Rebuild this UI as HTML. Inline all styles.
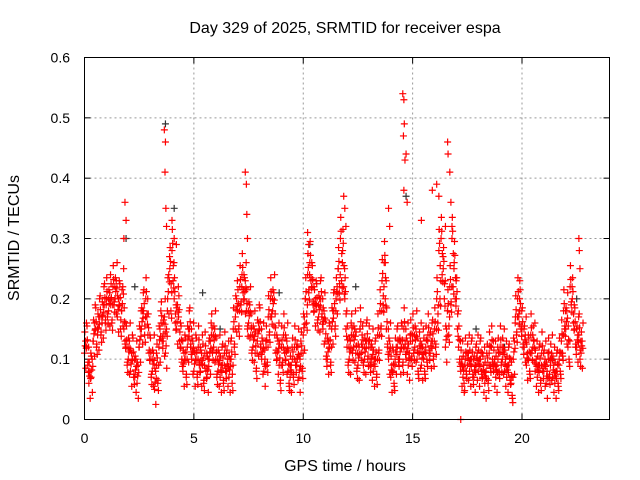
<!DOCTYPE html>
<html><head><meta charset="utf-8"><style>
body{margin:0;background:#fff}
svg{display:block;font-family:"Liberation Sans",sans-serif}
</style></head><body>
<svg id="chart" width="640" height="480">
<rect width="640" height="480" fill="#fff"/>
<text x="345" y="33" text-anchor="middle" font-size="16">Day 329 of 2025, SRMTID for receiver espa</text>
<text x="345" y="471" text-anchor="middle" font-size="16">GPS time / hours</text>
<text transform="translate(19,238) rotate(-90)" text-anchor="middle" font-size="16">SRMTID / TECUs</text>
<g id="grid"></g><g id="axes"></g><g id="marks"></g>
<rect x="84.5" y="57.5" width="525" height="362" fill="none" stroke="#000"/>
</svg>
<script>
const xTicks=[0,5,10,15,20];
const yTicks=[0,0.1,0.2,0.3,0.4,0.5,0.6];
const yTickLabels=["0","0.1","0.2","0.3","0.4","0.5","0.6"];
const redA=[0.11,0.12,0.06,0.07,0.13,0.15,0.14,0.17,0.16,0.19,
0.2,0.18,0.19,0.22,0.2,0.17,0.19,0.18,0.15,0.12,
0.1,0.08,0.1,0.07,0.06,0.12,0.15,0.18,0.2,0.14,
0.1,0.08,0.05,0.09,0.12,0.16,0.13,0.11,0.2,0.25,
0.28,0.2,0.15,0.17,0.12,0.08,0.1,0.12,0.15,0.1,
0.08,0.1,0.12,0.08,0.09,0.11,0.07,0.1,0.14,0.12,
0.1,0.08,0.07,0.09,0.11,0.08,0.07,0.1,0.15,0.17,
0.18,0.22,0.24,0.2,0.18,0.16,0.14,0.12,0.11,0.13,
0.15,0.1,0.08,0.12,0.17,0.2,0.18,0.14,0.1,0.09,
0.12,0.14,0.1,0.08,0.07,0.1,0.12,0.09,0.07,0.11,
0.14,0.2,0.24,0.26,0.22,0.18,0.19,0.17,0.2,0.15,
0.13,0.1,0.12,0.15,0.18,0.2,0.25,0.3,0.28,0.2,
0.12,0.1,0.14,0.12,0.11,0.09,0.15,0.12,0.1,0.13,
0.12,0.09,0.08,0.1,0.14,0.18,0.23,0.26,0.15,0.1,
0.07,0.08,0.1,0.12,0.1,0.12,0.15,0.1,0.09,0.13,
0.14,0.12,0.1,0.11,0.09,0.1,0.12,0.14,0.11,0.13,
0.15,0.2,0.28,0.3,0.25,0.12,0.18,0.22,0.3,0.26,
0.2,0.12,0.08,0.07,0.1,0.09,0.08,0.1,0.07,0.09,
0.08,0.1,0.07,0.06,0.09,0.11,0.12,0.08,0.07,0.1,
0.12,0.1,0.08,0.07,0.09,0.06,0.1,0.17,0.2,0.18,
0.15,0.12,0.09,0.1,0.14,0.12,0.08,0.07,0.09,0.11,
0.08,0.06,0.1,0.09,0.07,0.06,0.08,0.1,0.13,0.18,
0.15,0.12,0.22,0.2,0.15,0.12,0.14,0.11];
const redB=[0.13,0.09,0.08,0.1,0.16,0.12,0.17,0.14,0.19,0.16,
0.17,0.21,0.16,0.19,0.23,0.2,0.15,0.22,0.13,0.09,
0.13,0.11,0.07,0.1,0.09,0.15,0.18,0.14,0.17,0.11,
0.07,0.11,0.08,0.06,0.15,0.13,0.17,0.15,0.24,0.18,
0.23,0.16,0.19,0.13,0.1,0.11,0.07,0.15,0.12,0.13,
0.11,0.07,0.09,0.11,0.06,0.08,0.1,0.13,0.11,0.15,
0.07,0.11,0.09,0.06,0.08,0.1,0.1,0.06,0.12,0.2,
0.15,0.19,0.21,0.23,0.15,0.19,0.11,0.15,0.08,0.16,
0.12,0.13,0.1,0.09,0.14,0.17,0.21,0.11,0.13,0.06,
0.09,0.11,0.13,0.06,0.09,0.07,0.09,0.12,0.1,0.08,
0.17,0.16,0.21,0.23,0.19,0.2,0.16,0.2,0.17,0.18,
0.1,0.13,0.09,0.18,0.15,0.22,0.21,0.23,0.22,0.15,
0.09,0.13,0.11,0.15,0.08,0.12,0.11,0.09,0.13,0.1,
0.09,0.12,0.1,0.07,0.11,0.15,0.19,0.2,0.12,0.13,
0.09,0.06,0.12,0.1,0.13,0.09,0.12,0.13,0.11,0.1,
0.11,0.15,0.08,0.13,0.12,0.08,0.1,0.11,0.13,0.1,
0.12,0.16,0.2,0.24,0.2,0.15,0.14,0.19,0.22,0.2,
0.15,0.1,0.1,0.06,0.08,0.11,0.1,0.07,0.09,0.11,
0.1,0.08,0.09,0.08,0.06,0.09,0.1,0.1,0.09,0.08,
0.09,0.12,0.1,0.09,0.07,0.04,0.13,0.14,0.17,0.15,
0.12,0.14,0.11,0.08,0.11,0.13,0.1,0.09,0.06,0.08,
0.1,0.08,0.07,0.11,0.09,0.08,0.06,0.08,0.11,0.15,
0.18,0.1,0.19,0.16,0.12,0.14,0.1,0.13];
const spikeT=[1.85,1.9,1.8,3.65,3.7,3.68,3.72,3.75,4.0,4.1,4.2,7.35,7.4,7.42,7.45,10.2,10.25,11.85,11.9,11.95,13.9,13.95,14.55,14.6,14.62,14.58,14.65,14.6,14.7,14.75,15.9,16.1,16.2,16.5,16.6,16.62,16.7,16.75,16.8,19.9,22.6,22.62,22.65,15.4,13.75,17.2];
const spikeV=[0.36,0.33,0.3,0.48,0.46,0.41,0.35,0.32,0.33,0.3,0.29,0.41,0.39,0.34,0.3,0.31,0.29,0.37,0.35,0.32,0.35,0.32,0.54,0.53,0.49,0.47,0.43,0.38,0.44,0.36,0.38,0.39,0.37,0.32,0.46,0.44,0.41,0.36,0.32,0.23,0.3,0.28,0.25,0.33,0.26,0];
const blackT=[1.9,3.7,4.1,14.7,22.5,0.5,2.3,5.4,8.9,12.4,17.9,19.2,21.4,10.3,6.2];
const blackV=[0.3,0.49,0.35,0.37,0.2,0.15,0.22,0.21,0.21,0.22,0.15,0.12,0.1,0.29,0.15];
const X=t=>84.5+t*(525/24);
const Y=v=>419.5-v*(362/0.6);
const NS="http://www.w3.org/2000/svg";
const grid=document.getElementById('grid'),axes=document.getElementById('axes'),marks=document.getElementById('marks');
function mk(tag,at,parent){const e=document.createElementNS(NS,tag);for(const k in at)e.setAttribute(k,at[k]);parent.appendChild(e);return e;}
xTicks.forEach(t=>{const x=X(t);
 if(t>0){const g=mk('line',{x1:x,x2:x,y1:57.5,y2:419.5,stroke:'#999','stroke-dasharray':'2,3'},grid);
 
 }
 mk('line',{x1:x,x2:x,y1:419.5,y2:413.5,stroke:'#000'},axes);
 mk('line',{x1:x,x2:x,y1:57.5,y2:63.5,stroke:'#000'},axes);
 const l=mk('text',{x:x,y:443,'text-anchor':'middle','font-size':14},axes);l.textContent=t;
 
 });
yTicks.forEach((v,i)=>{const y=Y(v);
 if(i>0&&i<yTicks.length-1){const g=mk('line',{x1:84.5,x2:609.5,y1:y,y2:y,stroke:'#999','stroke-dasharray':'2,3'},grid);
 
 }
 mk('line',{x1:84.5,x2:90.5,y1:y,y2:y,stroke:'#000'},axes);
 mk('line',{x1:609.5,x2:603.5,y1:y,y2:y,stroke:'#000'},axes);
 const l=mk('text',{x:70,y:y+5,'text-anchor':'end','font-size':14},axes);l.textContent=yTickLabels[i];
 
 });
function plus(t,v,c,name){const x=X(t),y=Y(v);
 const p=mk('path',{d:`M${x-3.5},${y}h7M${x},${y-3.5}v7`,stroke:c,'stroke-width':1.2,fill:'none'},marks);
 
 }
blackT.forEach((t,i)=>plus(t,blackV[i],'#333','black-point'));
redA.forEach((v,i)=>{plus(i*0.1,v,'#f00','red-point');plus(i*0.1+0.03,v+0.012,'#f00','red-point');plus(i*0.1+0.015,v+0.035,'#f00','red-point');plus(i*0.1+0.06,v-0.025,'#f00','red-point');});
redB.forEach((v,i)=>{plus(i*0.1+0.05,v,'#f00','red-point');plus(i*0.1+0.08,v-0.012,'#f00','red-point');plus(i*0.1+0.09,v+0.03,'#f00','red-point');});
spikeT.forEach((t,i)=>plus(t,spikeV[i],'#f00','red-spike-point'));
</script>
</body></html>
